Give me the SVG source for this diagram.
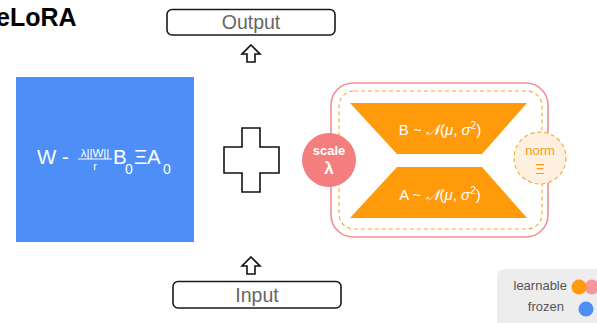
<svg xmlns="http://www.w3.org/2000/svg" width="597" height="323" viewBox="0 0 597 323">
  <defs>
    <style>
      .sans { font-family: "Liberation Sans", Arial, sans-serif; }
      .io-box { fill: #ffffff; stroke: #1a1a1a; stroke-width: 1.6; }
      .io-text { font-size: 19.5px; fill: #666666; text-anchor: middle; }
      .hollow { fill: #ffffff; stroke: #111111; stroke-width: 1.6; stroke-linejoin: miter; }
      .white { fill: #ffffff; }
      .trap { fill: #FF9A0B; }
      .trap-text { font-size: 15px; fill: #ffffff; text-anchor: middle; }
      .legend-text { font-size: 13px; fill: #555555; text-anchor: end; }
    </style>
    <!-- hollow up arrow, tip at origin -->
    <path id="up-arrow" d="M0 0 L9 9 L4 9 L4 17 L-4 17 L-4 9 L-9 9 Z"/>
  </defs>

  <rect width="597" height="323" fill="#ffffff"/>

  <!-- title -->
  <text class="sans" x="-4" y="26" font-size="25" font-weight="bold" fill="#000000">eLoRA</text>

  <!-- output -->
  <g id="output">
    <rect class="io-box" x="167" y="9.5" width="168" height="25.5" rx="5"/>
    <text class="sans io-text" x="251" y="29">Output</text>
  </g>

  <!-- input -->
  <g id="input">
    <rect class="io-box" x="173" y="281.5" width="168" height="26.5" rx="5"/>
    <text class="sans io-text" x="257" y="302">Input</text>
  </g>

  <!-- frozen weight -->
  <g id="frozen-weight">
    <rect x="16" y="77" width="178" height="165" fill="#4E8FF7"/>
    <text class="sans white" x="37" y="164" font-size="20.5">W -</text>
    <text class="sans white" x="95" y="157" font-size="11.5" text-anchor="middle">λ||W||</text>
    <line x1="78" y1="159" x2="112" y2="159" stroke="#ffffff" stroke-width="1"/>
    <text class="sans white" x="95" y="170" font-size="11" text-anchor="middle">r</text>
    <text class="sans white" x="113" y="164" font-size="20.5">B</text>
    <text class="sans white" x="125" y="174" font-size="14">0</text>
    <text class="sans white" x="134" y="164" font-size="20.5">Ξ</text>
    <text class="sans white" x="147" y="164" font-size="20.5">A</text>
    <text class="sans white" x="163" y="174" font-size="14">0</text>
  </g>

  <!-- plus operator -->
  <g id="plus">
    <path class="hollow" d="M242 128 H260 V147 H279 V173 H260 V192 H242 V173 H224 V147 H242 Z"/>
  </g>

  <!-- adapter -->
  <g id="adapter">
    <rect x="331" y="83" width="217" height="154" rx="22" fill="#ffffff" stroke="#F2908E" stroke-width="1.6"/>
    <rect x="339" y="91" width="203" height="138" rx="15" fill="none" stroke="#F5A833" stroke-width="1.1" stroke-dasharray="4 3"/>
  </g>

  <g id="matrix-b">
    <path class="trap" d="M350 103 H527 L482 154 H397 Z"/>
    <text class="sans trap-text" x="440" y="135">B ~ <tspan font-style="italic">𝒩</tspan>(<tspan font-style="italic">μ</tspan>, <tspan font-style="italic">σ</tspan><tspan font-size="10" dy="-6">2</tspan><tspan dy="6">)</tspan></text>
  </g>

  <g id="matrix-a">
    <path class="trap" d="M397 167 H482 L527 218 H350 Z"/>
    <text class="sans trap-text" x="440" y="200">A ~ <tspan font-style="italic">𝒩</tspan>(<tspan font-style="italic">μ</tspan>, <tspan font-style="italic">σ</tspan><tspan font-size="10" dy="-6">2</tspan><tspan dy="6">)</tspan></text>
  </g>

  <g id="scale">
    <circle cx="329" cy="160" r="27" fill="#F47E7E"/>
    <text class="sans white" x="329" y="155" font-size="13" font-weight="bold" text-anchor="middle">scale</text>
    <text class="sans white" x="329" y="174" font-size="17" font-weight="bold" text-anchor="middle">λ</text>
  </g>

  <g id="norm">
    <circle cx="540" cy="158" r="26" fill="#FDF0DF" stroke="#F5A833" stroke-width="1.1" stroke-dasharray="4 3"/>
    <text class="sans" x="540" y="155" font-size="13" fill="#F59A1E" text-anchor="middle">norm</text>
    <text class="sans" x="540" y="174" font-size="15" fill="#F59A1E" text-anchor="middle">Ξ</text>
  </g>

  <!-- connectors -->
  <g id="connectors">
    <use href="#up-arrow" class="hollow" x="251" y="45"/>
    <use href="#up-arrow" class="hollow" x="251" y="257"/>
  </g>

  <!-- legend -->
  <g id="legend">
    <rect x="497" y="269" width="120" height="70" rx="8" fill="#EDEDED"/>
    <text class="sans legend-text" x="567" y="290">learnable</text>
    <circle cx="592" cy="287" r="7.5" fill="#F8979A"/>
    <circle cx="579" cy="287" r="7.5" fill="#FF9A0B"/>
    <text class="sans legend-text" x="564" y="311">frozen</text>
    <circle cx="586" cy="309" r="7.5" fill="#4E8FF7"/>
  </g>
</svg>
